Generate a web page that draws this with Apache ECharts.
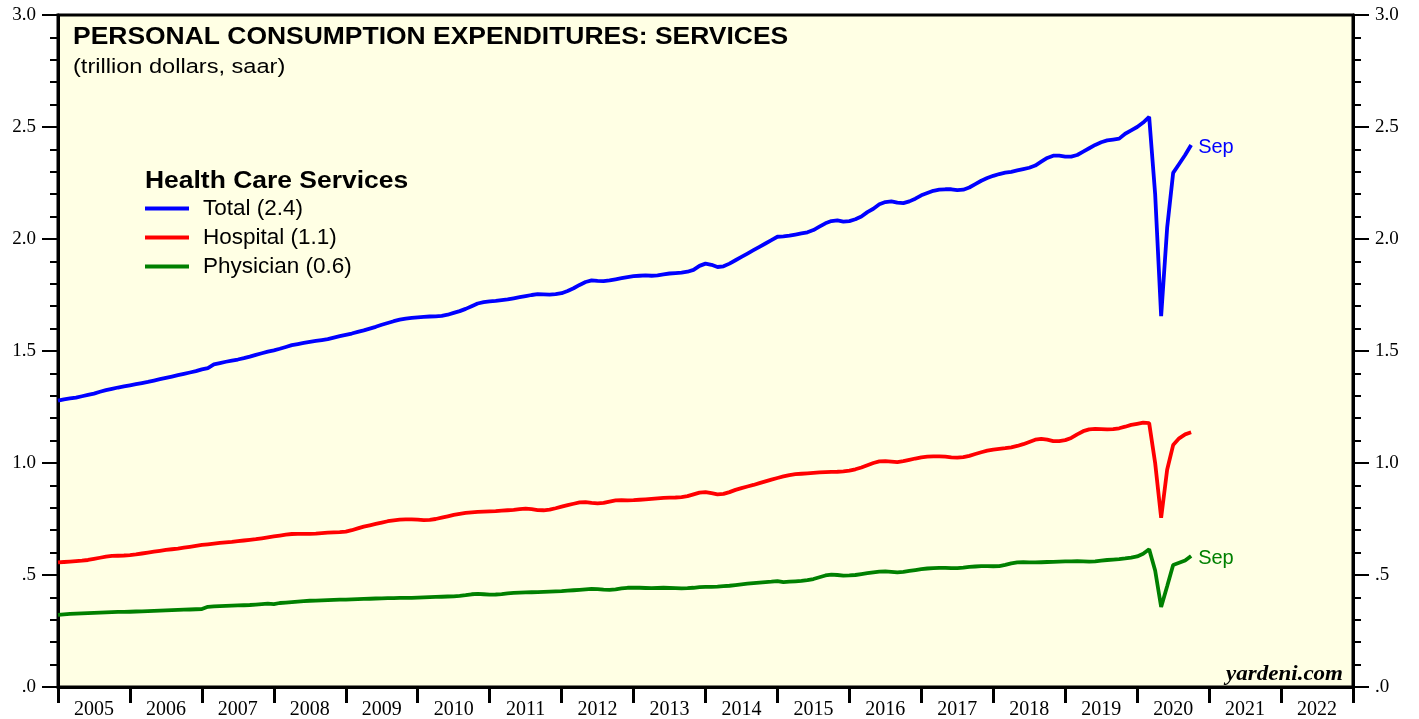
<!DOCTYPE html>
<html>
<head>
<meta charset="utf-8">
<title>PCE: Health Care Services</title>
<script src="https://cdn.jsdelivr.net/npm/echarts@6/dist/echarts.min.js"></script>
<style>
  html, body { margin: 0; padding: 0; background: #fff; }
  #chart { width: 1419px; height: 719px; }
</style>
</head>
<body>
<div id="chart"></div>
<script>
// x axis: one box per year
var years = ['2005', '2006', '2007', '2008', '2009', '2010', '2011', '2012', '2013',
  '2014', '2015', '2016', '2017', '2018', '2019', '2020', '2021', '2022'];
var yLabels = ['.0', '.5', '1.0', '1.5', '2.0', '2.5', '3.0'];
var seriesNames = ['Total (2.4)', 'Hospital (1.1)', 'Physician (0.6)'];

// monthly values, trillion $ saar, Dec 2004 .. Sep 2020 (one row per year)
var total = [1.278,
  1.284, 1.288, 1.292, 1.298, 1.304, 1.310, 1.318, 1.325, 1.331, 1.337, 1.342, 1.347,
  1.352, 1.357, 1.362, 1.368, 1.374, 1.380, 1.386, 1.392, 1.398, 1.404, 1.410, 1.418,
  1.424, 1.440, 1.446, 1.452, 1.457, 1.462, 1.468, 1.475, 1.483, 1.490, 1.497, 1.503,
  1.510, 1.518, 1.526, 1.531, 1.536, 1.541, 1.545, 1.549, 1.553, 1.560, 1.566, 1.572,
  1.578, 1.585, 1.592, 1.600, 1.608, 1.617, 1.625, 1.633, 1.640, 1.645, 1.648, 1.650,
  1.652, 1.654, 1.655, 1.657, 1.662, 1.670, 1.678, 1.688, 1.700, 1.712, 1.718, 1.722,
  1.724, 1.727, 1.730, 1.735, 1.740, 1.745, 1.750, 1.754, 1.753, 1.752, 1.754, 1.758,
  1.768, 1.780, 1.795, 1.808, 1.815, 1.813, 1.812, 1.815, 1.820, 1.825, 1.830, 1.834,
  1.836, 1.838, 1.836, 1.838, 1.842, 1.846, 1.848, 1.850, 1.854, 1.862, 1.880, 1.890,
  1.885, 1.875, 1.878, 1.890, 1.905, 1.920, 1.935, 1.950, 1.965, 1.980, 1.995, 2.010,
  2.012, 2.015, 2.020, 2.025, 2.030, 2.040, 2.055, 2.070, 2.080, 2.083, 2.078, 2.080,
  2.088, 2.100, 2.120, 2.135, 2.155, 2.165, 2.168, 2.162, 2.160, 2.168, 2.180, 2.195,
  2.205, 2.215, 2.220, 2.222, 2.222, 2.218, 2.220, 2.230, 2.245, 2.260, 2.272, 2.282,
  2.290, 2.296, 2.300, 2.306, 2.312, 2.318, 2.328, 2.345, 2.362, 2.372, 2.372, 2.368,
  2.368, 2.375, 2.390, 2.405, 2.420, 2.432, 2.440, 2.444, 2.448, 2.470, 2.485, 2.500,
  2.520, 2.545, 2.200, 1.656, 2.050, 2.295, 2.335, 2.375, 2.420];

var hospital = [0.556,
  0.558, 0.560, 0.562, 0.564, 0.567, 0.572, 0.577, 0.582, 0.585, 0.586, 0.587, 0.589,
  0.592, 0.596, 0.600, 0.604, 0.608, 0.612, 0.615, 0.618, 0.622, 0.626, 0.630, 0.634,
  0.637, 0.640, 0.643, 0.646, 0.648, 0.651, 0.654, 0.657, 0.660, 0.664, 0.668, 0.672,
  0.676, 0.680, 0.683, 0.684, 0.684, 0.684, 0.685, 0.687, 0.689, 0.690, 0.691, 0.694,
  0.700, 0.708, 0.716, 0.722, 0.728, 0.734, 0.740, 0.744, 0.747, 0.748, 0.748, 0.747,
  0.745, 0.746, 0.750, 0.756, 0.762, 0.768, 0.773, 0.777, 0.780, 0.782, 0.783, 0.784,
  0.785, 0.787, 0.789, 0.791, 0.794, 0.796, 0.794, 0.790, 0.789, 0.792, 0.798, 0.805,
  0.812, 0.818, 0.824, 0.825, 0.822, 0.820, 0.822, 0.828, 0.833, 0.834, 0.833, 0.834,
  0.836, 0.838, 0.840, 0.842, 0.844, 0.845, 0.846, 0.848, 0.852, 0.860, 0.868, 0.870,
  0.865, 0.860, 0.862, 0.870, 0.880, 0.888, 0.895, 0.902, 0.910, 0.918, 0.926, 0.933,
  0.940, 0.946, 0.950, 0.952, 0.954, 0.956, 0.958, 0.959, 0.960, 0.961, 0.963, 0.966,
  0.972, 0.980, 0.990, 1.000, 1.007, 1.008, 1.006, 1.004, 1.008, 1.014, 1.020, 1.025,
  1.028, 1.030, 1.030, 1.028, 1.025, 1.024, 1.026, 1.032, 1.040, 1.048, 1.055, 1.060,
  1.063, 1.066, 1.070, 1.076, 1.084, 1.094, 1.104, 1.108, 1.104, 1.098, 1.098, 1.102,
  1.112, 1.128, 1.142, 1.150, 1.152, 1.151, 1.150, 1.151, 1.155, 1.162, 1.170, 1.175,
  1.180, 1.178, 1.000, 0.755, 0.970, 1.080, 1.110, 1.128, 1.137];

var physician = [0.322,
  0.324, 0.326, 0.328, 0.329, 0.330, 0.331, 0.332, 0.333, 0.334, 0.335, 0.335, 0.336,
  0.337, 0.338, 0.339, 0.340, 0.341, 0.342, 0.343, 0.344, 0.345, 0.346, 0.347, 0.348,
  0.358, 0.360, 0.361, 0.362, 0.363, 0.364, 0.365, 0.366, 0.368, 0.370, 0.372, 0.370,
  0.375, 0.377, 0.379, 0.381, 0.383, 0.385, 0.386, 0.387, 0.388, 0.389, 0.390, 0.390,
  0.391, 0.392, 0.393, 0.394, 0.395, 0.396, 0.397, 0.397, 0.398, 0.398, 0.398, 0.399,
  0.400, 0.401, 0.402, 0.403, 0.404, 0.405, 0.407, 0.410, 0.414, 0.416, 0.414, 0.412,
  0.413, 0.415, 0.418, 0.420, 0.421, 0.422, 0.423, 0.424, 0.425, 0.426, 0.427, 0.428,
  0.430, 0.432, 0.434, 0.436, 0.438, 0.437, 0.435, 0.434, 0.436, 0.440, 0.443, 0.444,
  0.443, 0.442, 0.441, 0.442, 0.443, 0.442, 0.441, 0.440, 0.441, 0.443, 0.446, 0.447,
  0.447, 0.448, 0.450, 0.452, 0.455, 0.458, 0.461, 0.464, 0.466, 0.468, 0.470, 0.473,
  0.468, 0.470, 0.472, 0.474, 0.477, 0.482, 0.490, 0.498, 0.502, 0.500, 0.497, 0.498,
  0.500, 0.504, 0.508, 0.512, 0.515, 0.516, 0.514, 0.512, 0.514, 0.518, 0.522, 0.526,
  0.529, 0.531, 0.532, 0.532, 0.531, 0.531, 0.533, 0.536, 0.538, 0.540, 0.540, 0.539,
  0.540, 0.545, 0.552, 0.556, 0.557, 0.556, 0.556, 0.557, 0.558, 0.559, 0.560, 0.561,
  0.561, 0.562, 0.561, 0.560, 0.561, 0.564, 0.567, 0.569, 0.571, 0.574, 0.578, 0.583,
  0.595, 0.615, 0.520, 0.357, 0.450, 0.545, 0.555, 0.565, 0.585];

var sans = '"Liberation Sans", Arial, sans-serif';
var serif = '"Liberation Serif", "Times New Roman", serif';

// points sit at month ends, counted in months from the start of 2005
function toPoints(arr) {
  return arr.map(function (v, k) { return [k, v]; });
}

var chart = echarts.init(document.getElementById('chart'));

function yAxisCfg(pos) {
  return {
    type: 'value',
    position: pos,
    min: 0,
    max: 3,
    interval: 0.5,
    axisLine: { show: true, lineStyle: { color: '#000', width: 3 } },
    axisTick: { show: true, inside: false, length: 16, lineStyle: { color: '#000', width: 2 } },
    minorTick: { show: true, splitNumber: 5, length: 8, lineStyle: { color: '#000', width: 2 } },
    splitLine: { show: false },
    axisLabel: {
      margin: 22,
      color: '#000',
      fontFamily: serif,
      fontSize: 19,
      formatter: function (v) { return yLabels[Math.round(v / 0.5)]; }
    }
  };
}

var option = {
  animation: false,
  backgroundColor: '#fff',
  grid: {
    left: 58, right: 66, top: 15, bottom: 32,
    show: true,
    backgroundColor: '#ffffe4',
    borderColor: '#000',
    borderWidth: 3,
    outerBoundsMode: 'none'
  },
  legend: {
    orient: 'vertical',
    left: 145,
    top: 197,
    padding: 0,
    icon: 'rect',
    itemWidth: 44,
    itemHeight: 4,
    itemGap: 6,
    selectedMode: false,
    data: seriesNames,
    textStyle: { fontFamily: sans, fontSize: 22.5, color: '#000', lineHeight: 22, padding: [0, 0, 0, 9] }
  },
  xAxis: [
    {
      type: 'category',
      data: years,
      boundaryGap: true,
      axisLine: { show: true, lineStyle: { color: '#000', width: 3 } },
      axisTick: { show: true, inside: false, length: 16, interval: 0, lineStyle: { color: '#000', width: 3 } },
      axisLabel: { interval: 0, margin: 13, color: '#000', fontFamily: serif, fontSize: 20 },
      splitLine: { show: false }
    },
    {
      type: 'value',
      min: 0,
      max: years.length * 12,
      show: false
    }
  ],
  yAxis: [yAxisCfg('left'), yAxisCfg('right')],
  graphic: [
    {
      type: 'text', x: 73, y: 38, scaleX: 1.15,
      style: { text: 'PERSONAL CONSUMPTION EXPENDITURES: SERVICES', fill: '#000',
        font: 'bold 23px ' + sans, textVerticalAlign: 'middle' }
    },
    {
      type: 'text', x: 73, y: 67, scaleX: 1.15,
      style: { text: '(trillion dollars, saar)', fill: '#000',
        font: '20.5px ' + sans, textVerticalAlign: 'middle' }
    },
    {
      type: 'text', x: 145, y: 182, scaleX: 1.15,
      style: { text: 'Health Care Services', fill: '#000',
        font: 'bold 23px ' + sans, textVerticalAlign: 'middle' }
    },
    {
      type: 'text', x: 1343, y: 675, scaleX: 1.15,
      style: { text: 'yardeni.com', fill: '#000', textAlign: 'right',
        font: 'italic bold 20px ' + serif, textVerticalAlign: 'middle' }
    }
  ],
  series: [
    {
      name: seriesNames[0], type: 'line', xAxisIndex: 1, yAxisIndex: 0,
      data: toPoints(total), symbol: 'none', color: '#0000ff',
      lineStyle: { width: 3.8, color: '#0000ff' },
      endLabel: { show: true, formatter: 'Sep', color: '#0000ff', fontFamily: sans, fontSize: 20, distance: 7, offset: [0, 3] }
    },
    {
      name: seriesNames[1], type: 'line', xAxisIndex: 1, yAxisIndex: 0,
      data: toPoints(hospital), symbol: 'none', color: '#ff0000',
      lineStyle: { width: 3.8, color: '#ff0000' }
    },
    {
      name: seriesNames[2], type: 'line', xAxisIndex: 1, yAxisIndex: 0,
      data: toPoints(physician), symbol: 'none', color: '#008000',
      lineStyle: { width: 3.8, color: '#008000' },
      endLabel: { show: true, formatter: 'Sep', color: '#008000', fontFamily: sans, fontSize: 20, distance: 7, offset: [0, 3] }
    }
  ]
};

chart.setOption(option);
</script>
</body>
</html>
